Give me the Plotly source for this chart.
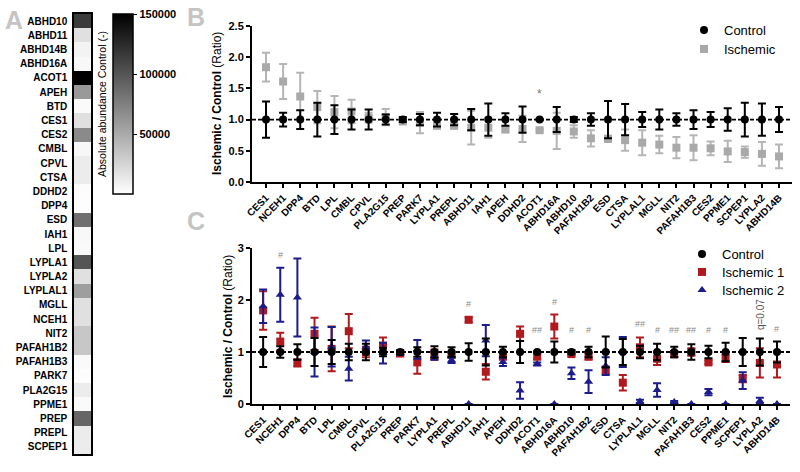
import plotly.graph_objects as go

# ---------------- Panel A data ----------------
heat_genes = ["ABHD10", "ABHD11", "ABHD14B", "ABHD16A", "ACOT1", "APEH", "BTD", "CES1", "CES2",
              "CMBL", "CPVL", "CTSA", "DDHD2", "DPP4", "ESD", "IAH1", "LPL", "LYPLA1", "LYPLA2",
              "LYPLAL1", "MGLL", "NCEH1", "NIT2", "PAFAH1B2", "PAFAH1B3", "PARK7", "PLA2G15",
              "PPME1", "PREP", "PREPL", "SCPEP1"]
heat_abundance = [115000, 18000, 7000, 4000, 150000, 60000, 3000, 18000, 69000,
                  5000, 11000, 11000, 2000, 1000, 84000, 4000, 3000, 100000, 18000,
                  57000, 18000, 18000, 33000, 33000, 3000, 1000, 11000,
                  3000, 90000, 11000, 11000]
cbar_ticks = [50000, 100000, 150000]

# ---------------- Panels B and C data ----------------
genes = ["CES1", "NCEH1", "DPP4", "BTD", "LPL", "CMBL", "CPVL", "PLA2G15", "PREP", "PARK7",
         "LYPLA1", "PREPL", "ABHD11", "IAH1", "APEH", "DDHD2", "ACOT1", "ABHD16A", "ABHD10",
         "PAFAH1B2", "ESD", "CTSA", "LYPLAL1", "MGLL", "NIT2", "PAFAH1B3", "CES2", "PPME1",
         "SCPEP1", "LYPLA2", "ABHD14B"]
control_ratio = [1.0, 1.0, 1.0, 1.0, 1.0, 1.0, 1.0, 1.0, 1.0, 1.0, 1.0, 1.0, 1.0, 1.0, 1.0, 1.0,
                 1.0, 1.0, 1.0, 1.0, 1.0, 1.0, 1.0, 1.0, 1.0, 1.0, 1.0, 1.0, 1.0, 1.0, 1.0]
control_err = [0.29, 0.11, 0.15, 0.27, 0.23, 0.16, 0.16, 0.08, 0.04, 0.09, 0.11, 0.09, 0.17,
               0.26, 0.10, 0.21, 0.01, 0.20, 0.04, 0.10, 0.30, 0.25, 0.12, 0.16, 0.10, 0.15,
               0.12, 0.18, 0.27, 0.26, 0.20]
isch_ratio = [1.84, 1.61, 1.37, 1.20, 1.12, 1.13, 1.03, 1.04, 0.97, 0.95, 0.90, 0.90, 0.87,
              0.87, 0.84, 0.85, 0.83, 0.82, 0.81, 0.70, 0.69, 0.67, 0.63, 0.60, 0.55, 0.55,
              0.54, 0.49, 0.48, 0.45, 0.41]
isch_err = [0.23, 0.28, 0.38, 0.26, 0.26, 0.19, 0.08, 0.13, 0.03, 0.17, 0.04, 0.03, 0.27,
            0.16, 0.03, 0.21, 0.02, 0.29, 0.10, 0.13, 0.05, 0.17, 0.20, 0.14, 0.17, 0.20,
            0.11, 0.17, 0.09, 0.19, 0.19]
b_sig = {"ACOT1": "*"}

isch1_ratio = [1.80, 1.20, 0.79, 1.35, 1.06, 1.40, 1.00, 1.12, 0.97, 0.80, 0.95, 0.95, 1.62,
               0.62, 0.91, 1.35, 0.91, 1.49, 0.96, 0.92, 0.65, 0.41, 1.09, 0.87, 0.96, 1.00,
               0.80, 0.88, 0.49, 0.79, 0.76]
isch1_err = [0.37, 0.17, 0.07, 0.31, 0.43, 0.33, 0.10, 0.16, 0.04, 0.22, 0.10, 0.05, 0.05,
             0.15, 0.05, 0.14, 0.05, 0.23, 0.03, 0.07, 0.07, 0.15, 0.19, 0.12, 0.06, 0.07,
             0.03, 0.07, 0.07, 0.28, 0.25]
isch2_ratio = [1.88, 2.10, 2.05, 1.00, 1.10, 0.68, 1.10, 0.98, 0.98, 1.05, 0.93, 0.84, 0.0,
               1.22, 0.81, 0.26, 0.77, 0.0, 0.59, 0.43, 0.73, 1.00, 0.05, 0.27, 0.04, 0.0,
               0.23, 0.0, 0.45, 0.06, 0.0]
isch2_err = [0.32, 0.52, 0.75, 0.47, 0.38, 0.23, 0.12, 0.20, 0.04, 0.18, 0.08, 0.05, 0.0,
             0.30, 0.08, 0.16, 0.03, 0.0, 0.11, 0.22, 0.17, 0.29, 0.03, 0.13, 0.02, 0.0,
             0.06, 0.0, 0.16, 0.06, 0.0]
c_sig = {"NCEH1": "#", "ABHD11": "#", "ACOT1": "##", "ABHD16A": "#", "ABHD10": "#",
         "PAFAH1B2": "#", "LYPLAL1": "##", "MGLL": "#", "NIT2": "##", "PAFAH1B3": "##",
         "CES2": "#", "PPME1": "#", "ABHD14B": "#"}
c_qnote = {"LYPLA2": "q=0.07"}

W, H = 800, 472
FONT = "Liberation Sans, Arial, sans-serif"
GREY = "#a9a9a9"
GREY_ERR = "#b5b5b5"
RED = "#b01a1e"
BLUE = "#1c1c8a"


def px(x):
    return x / W


def py(y):
    return 1 - y / H


fig = go.Figure()

# ---------------- Panel A heatmap ----------------
fig.add_trace(go.Heatmap(
    z=[[v] for v in heat_abundance], y=heat_genes, x=[0],
    colorscale=[[0, "#ffffff"], [1, "#000000"]], zmin=0, zmax=150000,
    xaxis="x3", yaxis="y3", hoverinfo="skip", showlegend=False,
    colorbar=dict(
        x=px(113), xanchor="left", xref="paper", y=py(14), yanchor="top", yref="paper",
        len=180, lenmode="pixels", thickness=20, thicknessmode="pixels",
        xpad=0, ypad=0, outlinecolor="black", outlinewidth=1.5,
        tickvals=cbar_ticks, ticktext=[str(v) for v in cbar_ticks],
        ticks="outside", ticklen=4, tickwidth=1, tickcolor="black",
        tickfont=dict(family=FONT, size=11, color="black", weight="bold"),
    ),
))

# ---------------- Panel B ----------------
fig.add_trace(go.Scatter(
    x=genes, y=isch_ratio, mode="markers", name="Ischemic", legend="legend3", showlegend=True,
    marker=dict(symbol="square", size=8, color=GREY),
    error_y=dict(type="data", array=isch_err, visible=True, thickness=2, width=4, color=GREY_ERR),
    xaxis="x", yaxis="y", cliponaxis=False,
))
fig.add_trace(go.Scatter(
    x=genes, y=control_ratio, mode="markers", name="Control", legend="legend6", showlegend=True,
    marker=dict(symbol="circle", size=8, color="black"),
    error_y=dict(type="data", array=control_err, visible=True, thickness=2, width=4, color="black"),
    xaxis="x", yaxis="y", cliponaxis=False,
))

# ---------------- Panel C ----------------
fig.add_trace(go.Scatter(
    x=genes, y=isch1_ratio, mode="markers", name="Ischemic 1", legend="legend4", showlegend=True,
    marker=dict(symbol="square", size=8, color=RED),
    error_y=dict(type="data", array=isch1_err, visible=True, thickness=2, width=4, color=RED),
    xaxis="x2", yaxis="y2", cliponaxis=False,
))
fig.add_trace(go.Scatter(
    x=genes, y=isch2_ratio, mode="markers", name="Ischemic 2", legend="legend5", showlegend=True,
    marker=dict(symbol="triangle-up", size=8, color=BLUE),
    error_y=dict(type="data", array=isch2_err, visible=True, thickness=2, width=4, color=BLUE),
    xaxis="x2", yaxis="y2", cliponaxis=False,
))
fig.add_trace(go.Scatter(
    x=genes, y=control_ratio, mode="markers", name="Control", legend="legend2", showlegend=True,
    marker=dict(symbol="circle", size=8, color="black"),
    error_y=dict(type="data", array=control_err, visible=True, thickness=2, width=4, color="black"),
    xaxis="x2", yaxis="y2", cliponaxis=False,
))

tickfont = dict(family=FONT, size=10, color="black", weight="bold")
ytickfont = dict(family=FONT, size=11, color="black", weight="bold")
common_x = dict(type="category", showgrid=False, zeroline=False, showline=True,
                linecolor="black", linewidth=2, ticks="outside", ticklen=4, tickwidth=1.5,
                tickcolor="black", tickangle=-45, tickfont=tickfont, automargin=False)
common_y = dict(showgrid=False, zeroline=False, showline=True, linecolor="black", linewidth=2,
                ticks="outside", ticklen=4, tickwidth=1.5, tickcolor="black", tickfont=ytickfont,
                automargin=False)

annotations = []
# significance marks, panel B
for g, s in b_sig.items():
    i = genes.index(g)
    top = max(isch_ratio[i] + isch_err[i], control_ratio[i] + control_err[i])
    annotations.append(dict(x=g, y=top + 0.4, xref="x", yref="y", text=s, showarrow=False,
                            font=dict(family=FONT, size=12, color="#777777")))
# significance marks, panel C
for g, s in c_sig.items():
    i = genes.index(g)
    top = max(isch1_ratio[i] + isch1_err[i], isch2_ratio[i] + isch2_err[i],
              control_ratio[i] + control_err[i])
    annotations.append(dict(x=g, y=max(1.42, top + 0.25), xref="x2", yref="y2", text=s,
                            showarrow=False, font=dict(family=FONT, size=9, color="#8a8a8a")))
for g, s in c_qnote.items():
    i = genes.index(g)
    top = control_ratio[i] + control_err[i]
    annotations.append(dict(x=g, y=top + 0.13, xref="x2", yref="y2", text=s, textangle=-90,
                            yanchor="bottom", xanchor="center", showarrow=False,
                            font=dict(family=FONT, size=10, color="#555555")))

# axis titles
annotations.append(dict(x=px(217), y=py(104), xref="paper", yref="paper",
                        xanchor="center", yanchor="middle",
                        text="<b>Ischemic / Control</b> (Ratio)", textangle=-90, showarrow=False,
                        font=dict(family=FONT, size=12, color="black")))
annotations.append(dict(x=px(228), y=py(326), xref="paper", yref="paper",
                        xanchor="center", yanchor="middle",
                        text="<b>Ischemic / Control</b> (Ratio)", textangle=-90, showarrow=False,
                        font=dict(family=FONT, size=12, color="black")))
annotations.append(dict(x=px(102), y=py(104), xref="paper", yref="paper",
                        xanchor="center", yanchor="middle",
                        text="Absolute abundance Control (-)", textangle=-90, showarrow=False,
                        font=dict(family=FONT, size=10.5, color="black")))
# panel letters
for letter, lx, ly in [("A", 14, 20), ("B", 196, 17), ("C", 196, 221)]:
    annotations.append(dict(x=px(lx), y=py(ly), xref="paper", yref="paper", text=letter,
                            xanchor="center", yanchor="middle", showarrow=False,
                            font=dict(family=FONT, size=25, color="#c4c4c4", weight="bold")))

shapes = [
    dict(type="line", xref="x domain", yref="y", x0=0, x1=1, y0=1, y1=1, layer="below",
         line=dict(color="black", width=1.8, dash="4px,2px")),
    dict(type="line", xref="x2 domain", yref="y2", x0=0, x1=1, y0=1, y1=1, layer="below",
         line=dict(color="black", width=1.8, dash="4px,2px")),
]

legend_font = dict(family=FONT, size=13, color="black")


def leg(xp, yp):
    return dict(x=px(xp), y=py(yp), xanchor="left", yanchor="top", bgcolor="rgba(0,0,0,0)",
                font=legend_font, itemwidth=30, tracegroupgap=0, visible=True)


fig.update_layout(
    width=W, height=H, margin=dict(l=0, r=0, t=0, b=0, autoexpand=False),
    paper_bgcolor="white", plot_bgcolor="white", showlegend=True,
    font=dict(family=FONT, color="black"),
    xaxis=dict(domain=[px(252), px(792)], range=[-0.82, 30.76], anchor="y", **common_x),
    yaxis=dict(domain=[py(182), py(26)], range=[0, 2.5], dtick=0.5, tickformat=".1f",
               anchor="x", **common_y),
    xaxis2=dict(domain=[px(252), px(790)], range=[-0.65, 30.76], anchor="y2", **common_x),
    yaxis2=dict(domain=[py(404), py(248)], range=[0, 3], dtick=1, anchor="x2", **common_y),
    xaxis3=dict(domain=[px(74), px(91)], range=[-0.5, 0.5], anchor="y3", showticklabels=False,
                ticks="", showgrid=False, zeroline=False, showline=True, mirror=True,
                linecolor="black", linewidth=1.5, automargin=False),
    yaxis3=dict(domain=[py(454), py(14)], anchor="x3", type="category", autorange="reversed",
                ticks="", showgrid=False, zeroline=False, showline=True, mirror=True,
                linecolor="black", linewidth=1.5, ticklabelstandoff=3, automargin=False,
                tickfont=dict(family=FONT, size=10, color="black", weight="bold")),
    legend=leg(684, 15),
    legend6=leg(684, 15),
    legend3=leg(684, 34),
    legend2=leg(682, 239),
    legend4=leg(682, 257),
    legend5=leg(682, 275),
    annotations=annotations, shapes=shapes,
)

fig.write_html("out.html", config={"displayModeBar": False},
               post_script="document.body.style.margin='0px';")
